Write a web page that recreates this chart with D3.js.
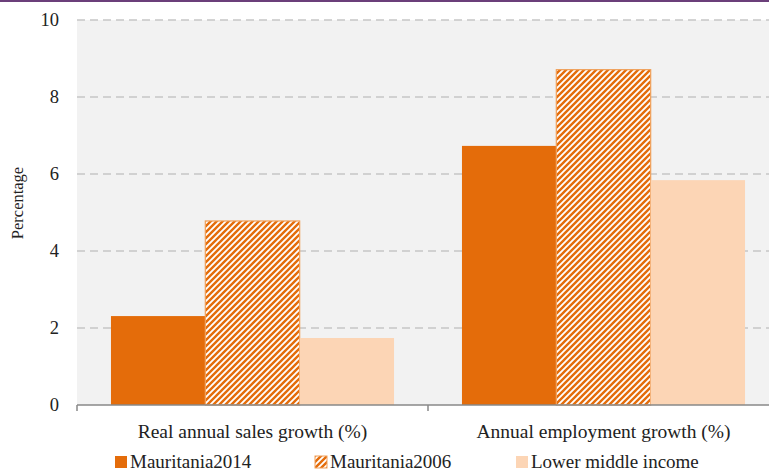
<!DOCTYPE html>
<html><head><meta charset="utf-8">
<script src="https://cdn.jsdelivr.net/npm/d3@7"></script>
<style>html,body{margin:0;padding:0;background:#fff;overflow:hidden}
svg text{font-family:"Liberation Serif","DejaVu Serif",serif !important;}</style>
</head><body>
<script>
const categories = ["Real annual sales growth (%)", "Annual employment growth (%)"];
const seriesNames = ["Mauritania2014", "Mauritania2006", "Lower middle income"];
const mauritania2014 = [2.31, 6.73];
const mauritania2006 = [4.78, 8.71];
const lowerMiddleIncome = [1.74, 5.84];
const yTicks = [0, 2, 4, 6, 8, 10];

(function () {
const W = 769, H = 472;
const svg = d3.select("body").append("svg").attr("width", W).attr("height", H);
const defs = svg.append("defs");
const pat = defs.append("pattern").attr("id", "hatch").attr("patternUnits", "userSpaceOnUse")
  .attr("width", 6).attr("height", 6);
pat.append("rect").attr("width", 6).attr("height", 6).attr("fill", "#fff");
pat.append("path").attr("d", "M-1,1 l2,-2 M0,6 l6,-6 M5,7 l2,-2")
  .attr("stroke", "#e46c0a").attr("stroke-width", 2.4);

// top purple line
svg.append("rect").attr("x", 0).attr("y", 0).attr("width", W).attr("height", 2).attr("fill", "#6b3f7a");

const mLeft = 77, mRight = 779, mTop = 20, mBottom = 405;
const y = d3.scaleLinear().domain([0, 10]).range([mBottom, mTop]);
const x0 = d3.scaleBand().domain(categories).range([mLeft, mRight]).paddingInner(0).paddingOuter(0);
const x1 = d3.scaleBand().domain(seriesNames).range([0, x0.bandwidth()]).paddingOuter(0.36).paddingInner(0);

svg.append("rect").attr("x", mLeft).attr("y", mTop).attr("width", W - mLeft).attr("height", mBottom - mTop).attr("fill", "#f2f2f2");

// gridlines
svg.append("g").selectAll("line").data(yTicks.filter(d => d > 0)).join("line")
  .attr("x1", mLeft).attr("x2", W).attr("y1", d => y(d)).attr("y2", d => y(d))
  .attr("stroke", "#c6c6c6").attr("stroke-width", 1.5).attr("stroke-dasharray", "8,5");

const values = [mauritania2014, mauritania2006, lowerMiddleIncome];
const fills = ["#e46c0a", "url(#hatch)", "#fcd5b5"];
const data = [];
categories.forEach((c, i) => seriesNames.forEach((s, j) => data.push({c, s, v: values[j][i], j})));

svg.append("g").selectAll("rect").data(data).join("rect")
  .attr("x", d => x0(d.c) + x1(d.s)).attr("width", x1.bandwidth())
  .attr("y", d => y(d.v)).attr("height", d => y(0) - y(d.v))
  .attr("fill", d => fills[d.j])
  .attr("stroke", d => d.j === 1 ? "#f0a05a" : "none").attr("stroke-width", 1.2);

// y axis labels
const yAxis = svg.append("g").attr("transform", `translate(${mLeft},0)`)
  .call(d3.axisLeft(y).tickValues(yTicks).tickSize(0).tickPadding(18).tickFormat(d3.format("d")));
yAxis.select(".domain").remove();
yAxis.selectAll("text").attr("font-size", 18.5).attr("fill", "#222");

// x axis
const xAxis = svg.append("g").attr("transform", `translate(0,${mBottom})`)
  .call(d3.axisBottom(x0).tickSize(0).tickPadding(19));
xAxis.select(".domain").attr("stroke", "#888").attr("stroke-width", 1.5).attr("d", `M${mLeft},0H${W}`);
xAxis.selectAll("text").attr("font-size", 19.5).attr("fill", "#222");
svg.append("g").selectAll("line").data([mLeft, x0(categories[1])]).join("line")
  .attr("x1", d => d).attr("x2", d => d).attr("y1", mBottom).attr("y2", mBottom + 6)
  .attr("stroke", "#888").attr("stroke-width", 1.5);

// y title
svg.append("text").attr("transform", `translate(23,203) rotate(-90)`)
  .attr("text-anchor", "middle").attr("font-size", 16.5).attr("fill", "#222")
  .text("Percentage");

// legend
const legX = [115, 315, 516];
const leg = svg.append("g").selectAll("g").data(seriesNames).join("g")
  .attr("transform", (d, i) => `translate(${legX[i]},456)`);
leg.append("rect").attr("width", 12).attr("height", 12).attr("fill", (d, i) => fills[i])
  .attr("stroke", (d, i) => i === 1 ? "#f0a05a" : "none");
leg.append("text").attr("x", 15).attr("y", 12).attr("font-size", 19)
  .attr("fill", "#222").text(d => d);
})();
</script>
</body></html>
